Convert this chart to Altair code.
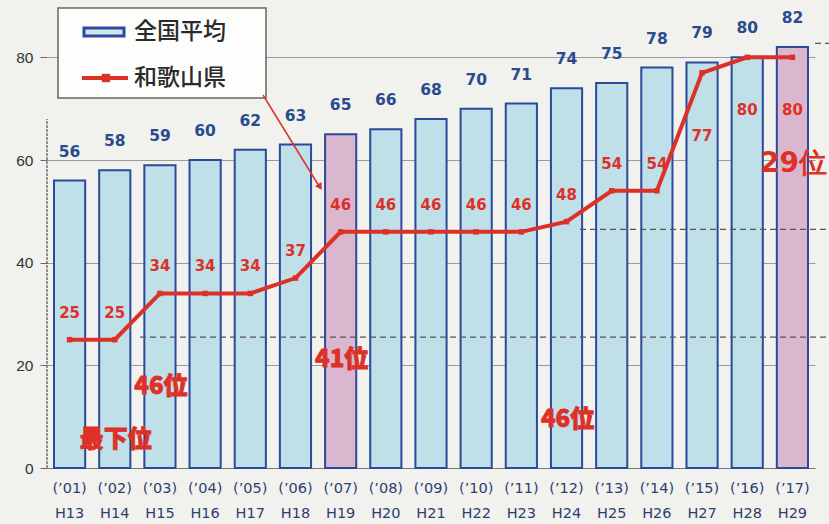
import altair as alt
import pandas as pd

years = ["’01", "’02", "’03", "’04", "’05", "’06", "’07", "’08", "’09",
         "’10", "’11", "’12", "’13", "’14", "’15", "’16", "’17"]
heisei = ["H13", "H14", "H15", "H16", "H17", "H18", "H19", "H20", "H21",
          "H22", "H23", "H24", "H25", "H26", "H27", "H28", "H29"]
national = [56, 58, 59, 60, 62, 63, 65, 66, 68, 70, 71, 74, 75, 78, 79, 80, 82]
wakayama = [25, 25, 34, 34, 34, 37, 46, 46, 46, 46, 46, 48, 54, 54, 77, 80, 80]
highlight = ["H19", "H29"]

ann_text = ["最下位", "46位", "41位", "46位"]
ann_year = ["H14", "H15", "H19", "H24"]
ann_val = [5.4, 15.8, 21.0, 9.3]
big_text = ["29位"]
big_year = ["H29"]
big_val = [59.3]
ref_vals = [25.5, 46.5]

cats = [f"({y})|{h}" for y, h in zip(years, heisei)]
df = pd.DataFrame({"cat": cats, "h": heisei, "nat": national, "wak": wakayama})
df["hl"] = df["h"].isin(highlight)

ann = pd.DataFrame({"t": ann_text, "cat": [cats[heisei.index(h)] for h in ann_year], "v": ann_val})
big = pd.DataFrame({"t": big_text, "cat": [cats[heisei.index(h)] for h in big_year], "v": big_val})

RED = "#dd3128"
NAVY = "#2b4a9c"
LBL = "#2a4b8d"
JP = "Noto Sans CJK JP"

xenc = alt.X("cat:N", sort=cats, title=None,
             scale=alt.Scale(paddingInner=0.31, paddingOuter=0.155),
             axis=alt.Axis(labelExpr="split(datum.value, '|')", labelAngle=0,
                           labelFont="DejaVu Sans", labelFontSize=14.5, labelColor="#2c3f6e",
                           labelLineHeight=25, labelPadding=13, ticks=False,
                           domainColor="#777", domainWidth=1, grid=False))
yscale = alt.Scale(domain=[0, 90], nice=False)
yenc = alt.Y("nat:Q", scale=yscale, title=None,
             axis=alt.Axis(values=[0, 20, 40, 60, 80], labelFont="Liberation Sans",
                           labelFontSize=15.5, labelColor="#333", labelPadding=7,
                           tickSize=7, tickColor="#666", domain=False,
                           gridColor="#9a9a9a", gridWidth=1))

base = alt.Chart(df)

bars = base.mark_bar(stroke=NAVY, strokeWidth=2).encode(
    x=xenc, y=yenc,
    fill=alt.condition("datum.hl", alt.value("#dbb6cf"), alt.value("#bfdfe9")),
)
bar_lbl = base.mark_text(font="DejaVu Sans", fontWeight="bold", fontSize=15.5,
                         color=LBL, baseline="middle", dy=-29).encode(
    x=alt.X("cat:N", sort=cats), y=alt.Y("nat:Q", scale=yscale), text="nat:Q")

refs = alt.Chart(pd.DataFrame({"v": ref_vals, "x0": [93, 533]})).mark_rule(
    color="#555", strokeDash=[6, 4], strokeWidth=1.3).encode(
    y=alt.Y("v:Q", scale=yscale), x=alt.X("x0:Q", scale=None), x2=alt.value(782))
ref_top = alt.Chart(pd.DataFrame({"v": [82.7]})).mark_rule(
    color="#555", strokeDash=[6, 4], strokeWidth=1.3).encode(
    y=alt.Y("v:Q", scale=yscale), x=alt.value(768), x2=alt.value(782))

line = base.mark_line(color=RED, strokeWidth=4).encode(
    x=alt.X("cat:N", sort=cats), y=alt.Y("wak:Q", scale=yscale))
pts = base.mark_point(shape="square", filled=True, color=RED, size=30, opacity=1).encode(
    x=alt.X("cat:N", sort=cats), y=alt.Y("wak:Q", scale=yscale))

lbl_common = dict(font="DejaVu Sans", fontWeight="bold", fontSize=15, color=RED, baseline="middle")
wl_above = base.transform_filter(
    alt.FieldOneOfPredicate(field="h", oneOf=heisei[:14])).mark_text(dy=-27, **lbl_common).encode(
    x=alt.X("cat:N", sort=cats), y=alt.Y("wak:Q", scale=yscale), text="wak:Q")
wl_mid = base.transform_filter(
    alt.FieldOneOfPredicate(field="h", oneOf=["H27"])).mark_text(dy=63, **lbl_common).encode(
    x=alt.X("cat:N", sort=cats), y=alt.Y("wak:Q", scale=yscale), text="wak:Q")
wl_below = base.transform_filter(
    alt.FieldOneOfPredicate(field="h", oneOf=["H28", "H29"])).mark_text(dy=53, **lbl_common).encode(
    x=alt.X("cat:N", sort=cats), y=alt.Y("wak:Q", scale=yscale), text="wak:Q")

ann_txt = alt.Chart(ann).mark_text(font=JP, fontWeight=900, fontSize=24, color=RED,
                                   stroke=RED, strokeWidth=0.8, baseline="middle", dx=1).encode(
    x=alt.X("cat:N", sort=cats), y=alt.Y("v:Q", scale=yscale), text="t:N")
big_txt = alt.Chart(big).mark_text(font="DejaVu Sans", fontWeight="bold", fontSize=28, color=RED,
                                   baseline="middle", dx=1).encode(
    x=alt.X("cat:N", sort=cats), y=alt.Y("v:Q", scale=yscale), text="t:N")

# y-axis line
yline = alt.Chart(pd.DataFrame({"a": [0], "b": [68]})).mark_rule(
    color="#555", strokeWidth=1.2, strokeDash=[3, 1]).encode(
    x=alt.value(0), y=alt.Y("a:Q", scale=yscale), y2="b:Q")

# legend box
one = pd.DataFrame({"k": [0]})
leg_box = alt.Chart(one).mark_rect(fill="#fdfdfb", stroke="#666", strokeWidth=1.5).encode(
    x=alt.value(11), x2=alt.value(219), y=alt.value(2), y2=alt.value(92))
leg_bar = alt.Chart(one).mark_rect(fill="#cfe6ef", stroke=NAVY, strokeWidth=3).encode(
    x=alt.value(37), x2=alt.value(77), y=alt.value(22), y2=alt.value(30))
leg_t1 = alt.Chart(one).mark_text(text="全国平均", font=JP, fontSize=23, fontWeight=500, color="#2a2a2a",
                                  align="left", baseline="middle").encode(
    x=alt.value(87), y=alt.value(26))
leg_line = alt.Chart(one).mark_rule(color=RED, strokeWidth=4).encode(
    x=alt.value(35), x2=alt.value(81), y=alt.value(72))
leg_pt = alt.Chart(one).mark_point(shape="square", filled=True, color=RED, size=70, opacity=1).encode(
    x=alt.value(59), y=alt.value(72))
leg_t2 = alt.Chart(one).mark_text(text="和歌山県", font=JP, fontSize=23, fontWeight=500, color="#2a2a2a",
                                  align="left", baseline="middle").encode(
    x=alt.value(87), y=alt.value(72))
arrow = alt.Chart(one).mark_rule(color=RED, strokeWidth=1.5).encode(
    x=alt.value(216), x2=alt.value(272), y=alt.value(89), y2=alt.value(180))
arrow_head = alt.Chart(one).mark_point(shape="triangle-up", filled=True, color=RED, size=60,
                                       angle=148, opacity=1).encode(
    x=alt.value(273), y=alt.value(181))

chart = alt.layer(
    bars, refs, ref_top, yline, bar_lbl, line, pts, wl_above, wl_mid, wl_below,
    ann_txt, big_txt, leg_box, leg_bar, leg_t1, leg_line, leg_pt, leg_t2, arrow, arrow_head
).properties(
    width=768, height=462,
    autosize=alt.AutoSizeParams(type="none"),
    padding={"left": 47, "top": 6, "right": 14, "bottom": 56},
    background="#f1f1ee",
).configure_view(stroke=None)

chart.save("out.html", embed_options={"renderer": "svg", "actions": False})
